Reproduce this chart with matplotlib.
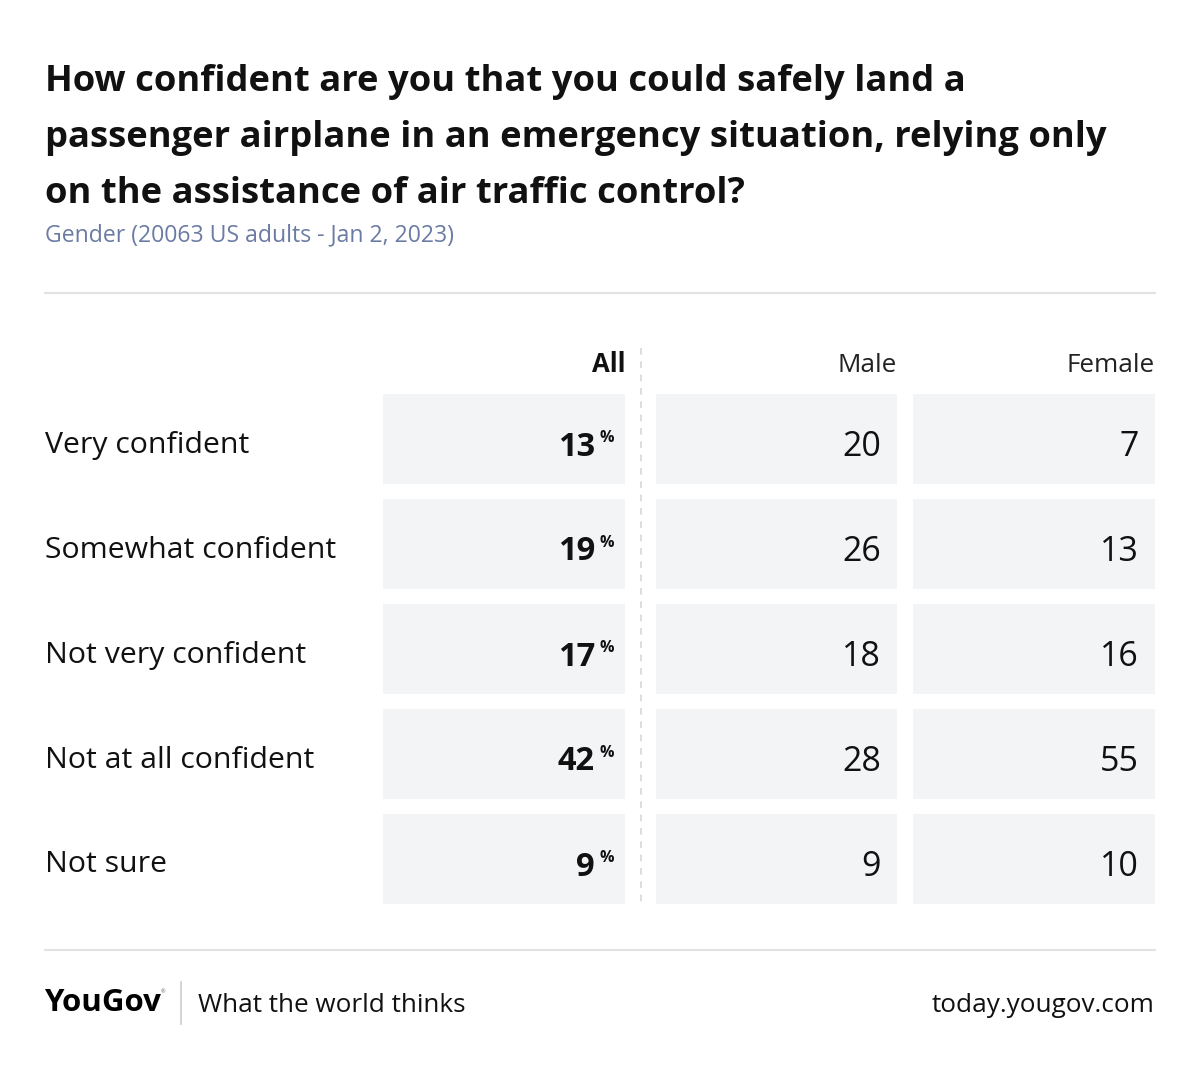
import matplotlib.pyplot as plt

categories = ["Very confident", "Somewhat confident", "Not very confident",
              "Not at all confident", "Not sure"]
all_vals = [13, 19, 17, 42, 9]
male_vals = [20, 26, 18, 28, 9]
female_vals = [7, 13, 16, 55, 10]
columns = ["All", "Male", "Female"]

title_lines = ["How confident are you that you could safely land a",
               "passenger airplane in an emergency situation, relying only",
               "on the assistance of air traffic control?"]
subtitle = "Gender (20063 US adults - Jan 2, 2023)"

W, H = 1200, 1069
fig = plt.figure(figsize=(W / 100, H / 100), dpi=100)
ax = fig.add_axes([0, 0, 1, 1])
ax.set_xlim(0, W)
ax.set_ylim(H, 0)
ax.axis("off")

font = "Open Sans"
cell_col = "#f3f4f6"
grey_line = "#e2e2e2"

# title block, one line at a time
for k, line in enumerate(title_lines):
    ax.text(45, 91 + 56 * k, line, fontsize=26.2, fontweight="bold",
            family=font, va="baseline", ha="left", color="#111111")
ax.text(45, 235, subtitle, fontsize=16.6, family=font, color="#6b7ba3",
        va="center", ha="left")
ax.plot([45, 1155], [293, 293], color=grey_line, lw=1.5)

# column layout (left, right)
col_x = [(383, 625), (656, 897), (913, 1155)]
row_top = 394
row_h = 90
row_step = 105

ax.text(625, 365, columns[0], fontsize=18.5, fontweight="bold", family=font,
        ha="right", va="center", color="#111111")
for (l, r), name in zip(col_x[1:], columns[1:]):
    ax.text(r, 365, name, fontsize=18.8, family=font, ha="right",
            va="center", color="#222222")

ax.plot([641, 641], [348, 905], color="#d8d8d8", lw=1.2, ls=(0, (4, 4)))

for i, cat in enumerate(categories):
    yc = row_top + i * row_step + row_h / 2
    for l, r in col_x:
        ax.barh(yc, r - l, left=l, height=row_h, color=cell_col, lw=0)
    ax.text(45, yc + 6, cat, fontsize=21.8, family=font, ha="left",
            va="center", color="#111111")
    ax.text(595, yc + 8, str(all_vals[i]), fontsize=23.5, fontweight="bold",
            family=font, ha="right", va="center", color="#111111")
    ax.text(600, yc - 1, "%", fontsize=11.5, fontweight="bold", family=font,
            ha="left", va="center", color="#111111")
    ax.text(col_x[1][1] - 16, yc + 8, str(male_vals[i]), fontsize=24.5,
            family=font, ha="right", va="center", color="#111111")
    ax.text(col_x[2][1] - 16, yc + 8, str(female_vals[i]), fontsize=24.5,
            family=font, ha="right", va="center", color="#111111")

# footer
ax.plot([45, 1155], [950, 950], color=grey_line, lw=1.5)
ax.text(44, 1003, "YouGov", fontsize=22.5, fontweight="bold", family=font,
        ha="left", va="center", color="#000000")
ax.text(161, 992, "®", fontsize=4, family=font, ha="left", va="center",
        color="#555555")
ax.plot([181, 181], [982, 1024], color="#cccccc", lw=1.2)
ax.text(198, 1006, "What the world thinks", fontsize=18.8, family=font,
        ha="left", va="center", color="#111111")
ax.text(1155, 1006, "today.yougov.com", fontsize=18.8, family=font,
        ha="right", va="center", color="#111111")

fig.savefig("out.png", dpi=100, facecolor="white")
